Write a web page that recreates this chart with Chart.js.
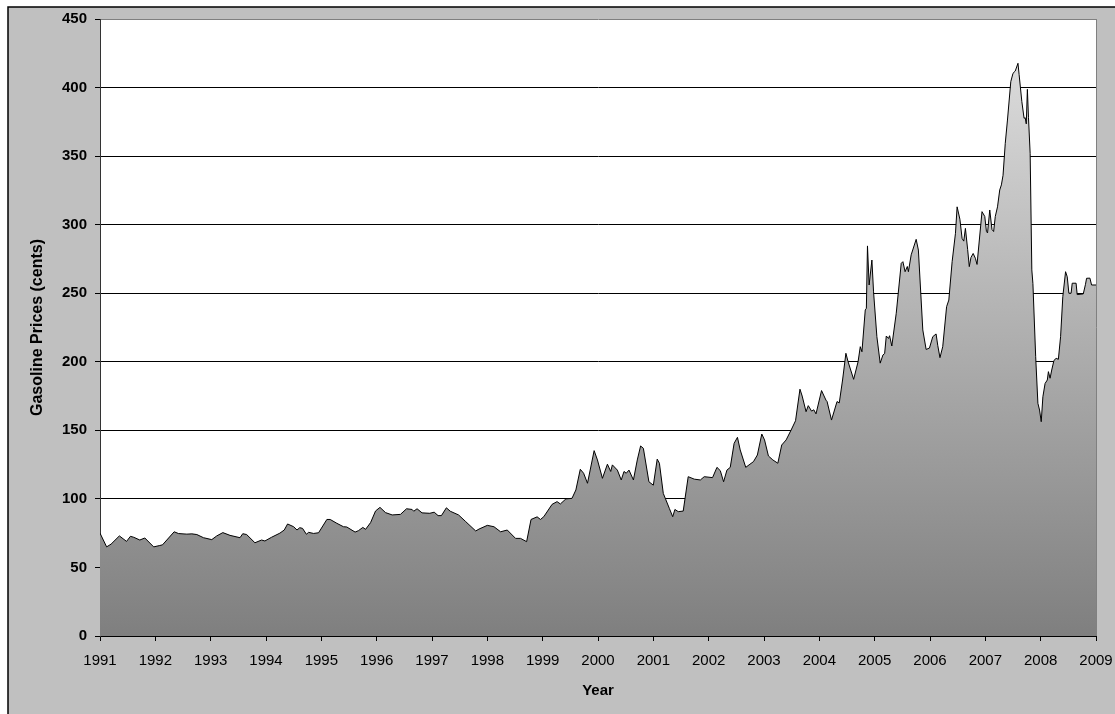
<!DOCTYPE html>
<html>
<head>
<meta charset="utf-8">
<script src="https://cdn.jsdelivr.net/npm/chart.js@4"></script>
<style>
  body { margin: 0; background: #fff; }
  canvas { display: block; }
</style>
</head>
<body>
<canvas id="gasChart" width="1115" height="714"></canvas>
<script>
// Weekly-ish gasoline prices (decimal year, cents)
const years = [
  1991.00, 1991.12, 1991.20, 1991.35, 1991.48, 1991.55, 1991.61, 1991.72, 1991.81, 1991.97,
  1992.08, 1992.13, 1992.34, 1992.42, 1992.57, 1992.66, 1992.75, 1992.87, 1993.02, 1993.11,
  1993.22, 1993.35, 1993.53, 1993.58, 1993.65, 1993.80, 1993.92, 1993.98, 1994.10, 1994.25,
  1994.33, 1994.39, 1994.50, 1994.56, 1994.61, 1994.66, 1994.73, 1994.77, 1994.86, 1994.95,
  1995.10, 1995.16, 1995.28, 1995.40, 1995.46, 1995.61, 1995.67, 1995.75, 1995.80, 1995.89,
  1995.98, 1996.06, 1996.16, 1996.28, 1996.43, 1996.54, 1996.64, 1996.67, 1996.73, 1996.82,
  1996.96, 1997.04, 1997.11, 1997.17, 1997.26, 1997.33, 1997.48, 1997.61, 1997.79, 1997.85,
  1998.00, 1998.12, 1998.24, 1998.36, 1998.51, 1998.60, 1998.71, 1998.79, 1998.90, 1998.96,
  1999.02, 1999.17, 1999.26, 1999.32, 1999.42, 1999.53, 1999.60, 1999.68, 1999.74, 1999.81,
  1999.93, 1999.99, 2000.08, 2000.17, 2000.23, 2000.26, 2000.35, 2000.42, 2000.47, 2000.51,
  2000.56, 2000.64, 2000.71, 2000.77, 2000.82, 2000.92, 2001.00, 2001.07, 2001.11, 2001.18,
  2001.29, 2001.35, 2001.39, 2001.45, 2001.54, 2001.63, 2001.74, 2001.85, 2001.92, 2002.07,
  2002.15, 2002.21, 2002.27, 2002.33, 2002.39, 2002.46, 2002.52, 2002.57, 2002.67, 2002.73,
  2002.81, 2002.88, 2002.96, 2003.01, 2003.08, 2003.16, 2003.25, 2003.32, 2003.40, 2003.49,
  2003.57, 2003.65, 2003.69, 2003.76, 2003.80, 2003.86, 2003.90, 2003.94, 2004.04, 2004.12,
  2004.14, 2004.22, 2004.32, 2004.36, 2004.42, 2004.48, 2004.52, 2004.62, 2004.70, 2004.74,
  2004.77, 2004.83, 2004.85, 2004.87, 2004.90, 2004.95, 2004.98, 2005.04, 2005.10, 2005.15,
  2005.18, 2005.21, 2005.25, 2005.27, 2005.31, 2005.39, 2005.48, 2005.51, 2005.55, 2005.59,
  2005.61, 2005.66, 2005.75, 2005.79, 2005.87, 2005.93, 2005.99, 2006.05, 2006.11, 2006.14,
  2006.18, 2006.23, 2006.30, 2006.34, 2006.40, 2006.46, 2006.49, 2006.54, 2006.58, 2006.61,
  2006.64, 2006.68, 2006.71, 2006.74, 2006.78, 2006.82, 2006.85, 2006.94, 2006.99, 2007.02,
  2007.04, 2007.08, 2007.12, 2007.15, 2007.18, 2007.22, 2007.26, 2007.29, 2007.32, 2007.36,
  2007.40, 2007.46, 2007.50, 2007.54, 2007.59, 2007.61, 2007.66, 2007.70, 2007.72, 2007.74,
  2007.76, 2007.78, 2007.81, 2007.84, 2007.86, 2007.91, 2007.95, 2007.98, 2008.01, 2008.04,
  2008.08, 2008.12, 2008.14, 2008.17, 2008.20, 2008.24, 2008.28, 2008.32, 2008.36, 2008.40,
  2008.45, 2008.48, 2008.51, 2008.55, 2008.57, 2008.64, 2008.66, 2008.77, 2008.81, 2008.83,
  2008.89, 2008.92, 2009.00
];
const prices = [
  75, 65, 67, 73, 69, 72.7, 72, 70, 71.5, 65,
  66, 66.5, 76, 74.7, 74.3, 74.5, 74, 71.7, 70.3, 73,
  75.4, 73.4, 71.7, 74.6, 74, 68, 70, 69.3, 72, 75,
  77.3, 81.7, 79.7, 77.3, 79, 78.5, 74.2, 75.6, 74.8, 75.3,
  85, 85, 82.2, 79.7, 79.5, 75.8, 76.8, 79.2, 77.8, 82.7,
  91.2, 93.8, 90, 88.3, 88.7, 92.8, 92.3, 91, 92.8, 89.8,
  89.5, 90.3, 87.8, 87.8, 93.5, 91, 88.3, 83.4, 76.6, 78,
  80.7, 79.7, 76, 77.3, 71.2, 71.2, 68.8, 85, 86.9, 85,
  87, 96, 98, 96.3, 100, 100.4, 106.5, 121.6, 118.7, 111.4,
  135.2, 128.4, 115, 125.3, 120, 124.8, 121, 113.8, 120, 118.7,
  121, 113.8, 128.4, 138.6, 136.9, 112.5, 110, 129, 126, 104,
  93, 87, 92.3, 90.7, 91.1, 116.2, 114.4, 113.8, 116.2, 115.5,
  123, 120.6, 112.5, 121, 123, 140.5, 144.9, 135.7, 123, 124.8,
  127.2, 132, 147.3, 143, 131.3, 128.4, 126, 139.3, 143, 150.2,
  157, 180, 175, 163.6, 168, 164, 165, 162, 179, 172,
  171, 157.5, 171, 170, 186.7, 206.2, 200, 187.2, 200, 211,
  207.3, 237.8, 239, 284.5, 256, 274.2, 251, 218.3, 199, 205,
  206, 218.8, 217, 219, 211.5, 235.4, 271.8, 273, 265.7, 269.5,
  265.7, 278, 289.3, 281.5, 223.2, 209, 210, 218.3, 220.3, 212,
  203, 211, 240.2, 245, 273, 293.7, 313, 304, 290, 288,
  297.3, 282, 269.4, 276, 279, 275.5, 271, 309.5, 306, 295,
  294, 310.7, 296.5, 295, 306, 313, 325.3, 329, 336, 359.3,
  376.3, 404.3, 410.4, 412, 417.7, 409.6, 389.7, 377.6, 378, 373.5,
  398.7, 378, 352, 267, 257, 203.7, 169.7, 164.8, 156.3, 174.5,
  184.2, 186.7, 192.8, 188, 194, 201, 202.5, 201.8, 218.3, 247.5,
  265.7, 262, 250, 250, 257.3, 257.3, 249, 249.5, 256.5, 260.9,
  261, 256, 256
];
const yearTicks = [1991, 2009];
const priceTicks = [0, 450, 50]; // min, max, step

// Excel-like frame: white margin, grey chart area with black edge, white plot
const framePlugin = {
  id: 'frame',
  beforeDraw(chart) {
    const { ctx, chartArea: a, width, height } = chart;
    ctx.save();
    ctx.fillStyle = '#ffffff';
    ctx.fillRect(0, 0, width, height);
    ctx.fillStyle = '#c0c0c0';
    ctx.fillRect(8, 7, width - 8, height - 7);
    ctx.strokeStyle = '#000000';
    ctx.lineWidth = 1.5;
    ctx.beginPath();
    ctx.moveTo(8, height);
    ctx.lineTo(8, 7);
    ctx.lineTo(width, 7);
    ctx.stroke();
    ctx.fillStyle = '#ffffff';
    ctx.fillRect(a.left, a.top, a.right - a.left, a.bottom - a.top);
    ctx.restore();
  },
  afterDraw(chart) {
    const { ctx, chartArea: a } = chart;
    ctx.save();
    ctx.strokeStyle = '#808080';
    ctx.lineWidth = 1;
    ctx.beginPath();
    ctx.moveTo(Math.round(a.right) + 0.5, a.top);
    ctx.lineTo(Math.round(a.right) + 0.5, a.bottom);
    ctx.stroke();
    ctx.restore();
  }
};

const ctx = document.getElementById('gasChart').getContext('2d');
const gasChart = new Chart(ctx, {
  type: 'line',
  data: {
    datasets: [{
      label: 'Gasoline Prices',
      data: years.map((y, i) => ({ x: y, y: prices[i] })),
      borderColor: '#000000',
      borderWidth: 1,
      pointRadius: 0,
      tension: 0,
      fill: 'origin',
      backgroundColor: (c) => {
        const a = c.chart.chartArea;
        if (!a) return '#a0a0a0';
        const g = c.chart.ctx.createLinearGradient(0, a.top, 0, a.bottom);
        g.addColorStop(0, '#e2e2e2');
        g.addColorStop(1, '#7f7f7f');
        return g;
      }
    }]
  },
  options: {
    responsive: false,
    animation: false,
    layout: { padding: { left: 8, top: 19, right: 19, bottom: 0 } },
    plugins: {
      legend: { display: false },
      tooltip: { enabled: false }
    },
    scales: {
      x: {
        type: 'linear',
        min: yearTicks[0],
        max: yearTicks[1],
        afterFit: (s) => { s.height = 78; s.paddingRight = 0; s.paddingLeft = 0; },
        border: { color: '#000000', width: 1 },
        grid: { drawOnChartArea: false, tickLength: 5, tickColor: '#000000' },
        ticks: {
          stepSize: 1,
          padding: 11,
          maxRotation: 0,
          autoSkip: false,
          color: '#000000',
          font: { family: 'Arial, "Liberation Sans", sans-serif', size: 15 },
          callback: (v) => String(v)
        },
        title: {
          display: true,
          text: 'Year',
          color: '#000000',
          padding: { top: 0, bottom: 14 },
          font: { family: 'Arial, "Liberation Sans", sans-serif', size: 15, weight: 'bold' }
        }
      },
      y: {
        min: priceTicks[0],
        max: priceTicks[1],
        afterFit: (s) => { s.width = 92; },
        border: { color: '#333333', width: 1 },
        grid: {
          color: (c) => (c.tick && c.tick.value === priceTicks[1]) ? '#808080' : '#000000',
          tickLength: 5,
          tickColor: '#000000'
        },
        ticks: {
          stepSize: priceTicks[2],
          padding: 8,
          color: '#000000',
          font: { family: 'Arial, "Liberation Sans", sans-serif', size: 15, weight: 'bold' }
        },
        title: {
          display: true,
          text: 'Gasoline Prices (cents)',
          color: '#000000',
          padding: { top: 20, bottom: 0 },
          font: { family: 'Arial, "Liberation Sans", sans-serif', size: 16, weight: 'bold' }
        }
      }
    }
  },
  plugins: [framePlugin]
});
</script>
</body>
</html>
